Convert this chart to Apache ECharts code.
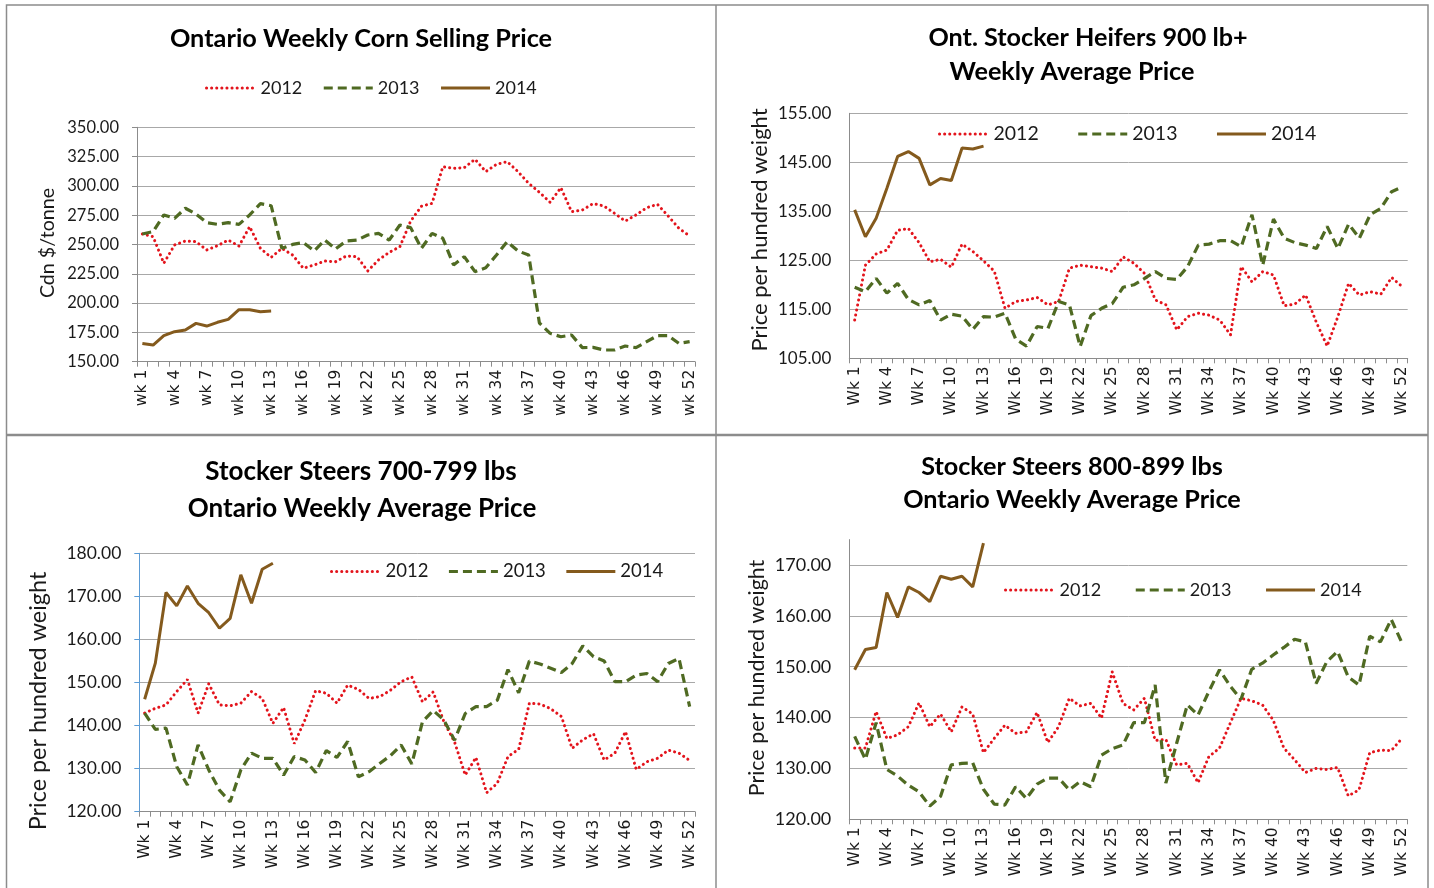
<!DOCTYPE html>
<html><head><meta charset="utf-8">
<script src="https://cdn.jsdelivr.net/npm/echarts@6/dist/echarts.min.js"></script>
<style>html,body{margin:0;padding:0;background:#fff}#c{width:1434px;height:888px}</style>
</head><body><div id="c"></div>
<script>
// ---------- categories ----------
const weekNums = Array.from({length: 52}, (_, i) => i + 1);
const catsLower = weekNums.map(n => 'wk ' + n);
const catsUpper = weekNums.map(n => 'Wk ' + n);
const seriesNames = ['2012', '2013', '2014'];

// ---------- Ontario Weekly Corn Selling Price (Cdn $/tonne) ----------
const corn2012 = [259,256.7,234,249.6,253,252.4,245.3,249,253.8,248.7,265.2,246.7,239,246.7,241,229.7,232.5,235.9,235.3,240.2,
  239.6,227.4,236.8,243.3,248.1,270,282.6,285.1,316.4,315,315.6,322.7,312.2,318.4,320.7,312.2,302.2,294.5,286,298.5,
  278,279.4,284.9,282.9,276.6,270,275.2,281.4,284.3,274.3,263.8,257.3];
const corn2013 = [259,261,275.2,272.3,280.9,276,268.6,267.2,268.6,267.2,275.2,284.9,283.1,246.7,250.1,251.6,244.5,253.8,246.2,253,
  253.8,258.1,259.5,253.8,266.6,264.4,246.7,259.5,255.3,232.5,239.6,226.8,230.2,241,252.4,244.5,241,183,174.2,171.3,
  172.8,162,162.2,160,160,163.4,162,167.1,172.2,172.2,165.6,167.1];
const corn2014 = [165.6,164.2,172.2,175.6,177,182.7,180.4,183.6,186.1,194.4,194.4,192.7,193.2];

// ---------- Ont. Stocker Heifers 900 lb+ ----------
const heif2012 = [112.8,124,126.3,127.1,131.1,131.5,128.6,124.7,125.2,123.6,128.3,126.8,124.9,122.8,115.2,116.6,116.9,117.4,115.9,116.6,
  123.4,124,123.7,123.4,122.7,125.7,124.4,122.3,116.9,115.9,110.8,113.5,114.2,113.8,112.8,109.8,123.7,120.6,122.7,122,
  115.7,116.1,117.9,112.3,107.5,113.5,120.3,117.9,118.6,118.1,121.5,119.6];
const heif2013 = [119.5,118.6,121.3,118.3,120.3,117,115.9,116.8,112.8,114,113.6,110.9,113.5,113.4,114.2,108.9,107.5,111.5,111.1,116.6,
  115.9,107.4,113.7,115.2,116.2,119.5,120,121.3,122.7,121.3,121.1,123.7,128.1,128.3,129,129,127.8,134.3,124,133.4,
  129.5,128.6,128.1,127.4,131.9,127.4,132.4,129.5,134.3,135.6,139,140];
const heif2014 = [135.3,129.8,133.6,139.7,146.2,147.2,145.8,140.4,141.7,141.3,147.9,147.7,148.3];

// ---------- Stocker Steers 700-799 lbs ----------
const st7_2012 = [142.9,144,144.8,147.9,150.7,142.9,149.7,144.8,144.6,145.2,147.9,146.3,140.5,144.2,135.8,141.3,148.1,147.5,145.2,149.4,
  148.4,146.3,146.7,148.2,150.2,151.3,145.5,147.8,140.9,136.2,128.5,132.6,124.4,126.6,132.8,134.5,145.2,145,143.9,142.1,
  134.7,136.7,138.1,132,133.6,138.6,129.8,131.6,132.4,134.3,133.6,131.9];
const st7_2013 = [142.9,139.1,139.4,130.5,126.2,135.5,129.7,125,122.3,129.7,133.6,132.4,132.4,128.5,132.8,132,129.1,134.2,132.6,136.3,
  128.1,129.3,131.2,133,135.5,131.1,140.9,143.5,141.3,136.6,142.8,144.4,144.4,145.9,153,147.6,155,154.3,153.3,152.3,
  154.4,158.5,156,155,150.2,150.2,151.7,152.1,150.2,154.4,155.6,144.4];
const st7_2014 = [146.1,154.5,170.9,167.8,172.4,168.4,166.2,162.6,164.9,175,168.4,176.3,177.7];

// ---------- Stocker Steers 800-899 lbs ----------
const st8_2012 = [134,134,141.2,135.9,136.6,138.2,142.9,138.2,140.7,137.2,142.1,140.7,133.1,135.9,138.5,136.9,137.2,141,135.1,138.2,
  143.8,142.3,142.8,139.9,149,142.8,141.5,143.8,135.5,135.7,130.7,131,127.2,132.3,134,138.9,143.8,143.3,142.5,139.5,
  134,131.7,129.2,130,129.8,130.2,124.6,125.8,133.1,133.6,133.5,135.9];
const st8_2013 = [136.3,131.8,139,129.8,128.5,126.7,125.4,122.6,124.5,130.7,131,131.1,125.9,123,122.8,126.4,124.1,126.9,128.1,128.1,
  125.8,127.4,126.4,132.6,133.9,134.6,139,139,146.4,127.1,134.9,142.5,140.5,145.1,149.4,146.2,143.6,149.5,150.7,152.3,
  153.8,155.4,154.9,146.7,151,153,148,146.4,156,154.9,159.3,154.7];
const st8_2014 = [149.4,153.4,153.8,164.6,159.7,165.7,164.6,162.8,167.8,167.2,167.8,165.7,174.3];

// ---------- styles ----------
const RED = '#E3141C', GREEN = '#4F6A22', BROWN = '#845A1D';
const GRID_C = '#a8a8a8', AXIS_C = '#8c8c8c', TXT = '#1a1a1a';
const FONT = 'Lato, "Liberation Sans", sans-serif';
const XFONT = '"DejaVu Sans", sans-serif';
const lineStyles = [
  {color: RED, width: 3, type: [0.1, 5], cap: 'round'},
  {color: GREEN, width: 3.2, type: [9, 5]},
  {color: BROWN, width: 3, type: 'solid'}
];

const panels = [
  {grid: {left: 137, top: 127.3, width: 558, height: 234.4}, cats: catsLower,
   y: {min: 150, max: 350, interval: 25}, tick: true, axisColor: AXIS_C, yFont: 16.5,
   data: [corn2012, corn2013, corn2014],
   legend: {left: 200, top: 74, itemGap: 20, fontSize: 18}},
  {grid: {left: 849.3, top: 113.3, width: 558.4, height: 245}, cats: catsUpper,
   y: {min: 105, max: 155, interval: 10}, tick: false, axisColor: AXIS_C, yFont: 17,
   data: [heif2012, heif2013, heif2014],
   legend: {left: 933, top: 119, itemGap: 38, fontSize: 19.5}},
  {grid: {left: 139.3, top: 553.3, width: 555.7, height: 258.4}, cats: catsUpper,
   y: {min: 120, max: 180, interval: 10}, tick: true, axisColor: '#5B9BD5', yFont: 17.5,
   data: [st7_2012, st7_2013, st7_2014],
   legend: {left: 325, top: 557, itemGap: 19, fontSize: 18.5}},
  {grid: {left: 849.3, top: 539.6, width: 558, height: 279.7}, cats: catsUpper,
   y: {min: 120, max: 175, interval: 10}, tick: false, axisColor: AXIS_C, yFont: 18, hideMax: true,
   data: [st8_2012, st8_2013, st8_2014],
   legend: {left: 999, top: 576, itemGap: 33, fontSize: 18}}
];

const option = {
  animation: false,
  backgroundColor: '#fff',
  grid: panels.map(p => Object.assign({containLabel: false}, p.grid)),
  xAxis: panels.map((p, i) => ({
    type: 'category', gridIndex: i, data: p.cats, boundaryGap: true,
    axisLine: {lineStyle: {color: AXIS_C, width: 1}},
    axisTick: {show: true, interval: 0, length: 5, lineStyle: {color: AXIS_C}},
    axisLabel: {interval: 2, rotate: 90, margin: 8, fontFamily: XFONT, fontSize: 15.5, color: TXT},
    splitLine: {show: false}
  })),
  yAxis: panels.map((p, i) => ({
    type: 'value', gridIndex: i, min: p.y.min, max: p.y.max, interval: p.y.interval,
    axisLine: {show: true, lineStyle: {color: p.axisColor, width: 1}},
    axisTick: {show: p.tick, length: 5, lineStyle: {color: p.axisColor}},
    axisLabel: {formatter: v => v.toFixed(2), fontFamily: FONT, fontSize: p.yFont, color: TXT, margin: 18,
                showMaxLabel: !p.hideMax},
    splitLine: {show: true, showMaxLine: !p.hideMax, lineStyle: {color: GRID_C, width: 1}}
  })),
  legend: panels.map(p => ({
    left: p.legend.left, top: p.legend.top, itemWidth: 49, itemHeight: 14, itemGap: p.legend.itemGap,
    orient: 'horizontal', data: seriesNames, selectedMode: false,
    itemStyle: {opacity: 0},
    lineStyle: {width: 3},
    textStyle: {fontFamily: FONT, fontSize: p.legend.fontSize, color: TXT}
  })),
  series: [],
  graphic: []
};

panels.forEach((p, i) => {
  p.data.forEach((d, k) => {
    option.series.push({
      type: 'line', name: seriesNames[k], data: d, xAxisIndex: i, yAxisIndex: i,
      symbol: 'none', smooth: false, clip: false,
      lineStyle: lineStyles[k], itemStyle: {color: lineStyles[k].color},
      z: 3 + k
    });
  });
});

const titles = [
  ['Ontario Weekly Corn Selling Price', 361, 39, 25.3],
  ['Ont. Stocker Heifers 900 lb+', 1088, 38, 25.2],
  ['Weekly Average Price', 1072, 72, 25.2],
  ['Stocker Steers 700-799 lbs', 361, 472, 26],
  ['Ontario Weekly Average Price', 362, 509, 26],
  ['Stocker Steers 800-899 lbs', 1072, 467, 25.2],
  ['Ontario Weekly Average Price', 1072, 500, 25.2]
];
const yNames = [
  ['Cdn $/tonne', 48, 243, 19.6],
  ['Price per hundred weight', 760, 230, 22],
  ['Price per hundred weight', 38, 701, 23.4],
  ['Price per hundred weight', 757, 678, 21.4]
];

option.graphic = [
  {type: 'rect', silent: true, shape: {x: 6.5, y: 5, width: 1421.5, height: 895}, style: {fill: 'none', stroke: '#8c8c8c', lineWidth: 1.5}},
  {type: 'line', silent: true, shape: {x1: 716, y1: 5, x2: 716, y2: 888}, style: {stroke: '#8c8c8c', lineWidth: 1.5}},
  {type: 'line', silent: true, shape: {x1: 6, y1: 435, x2: 1428, y2: 435}, style: {stroke: '#8c8c8c', lineWidth: 2.5}}
].concat(titles.map(t => ({
  type: 'text', silent: true, x: t[1], y: t[2],
  style: {text: t[0], textAlign: 'center', textVerticalAlign: 'middle', fill: '#000',
          font: 'bold ' + t[3] + 'px ' + FONT}
}))).concat(yNames.map(t => ({
  type: 'text', silent: true, x: t[1], y: t[2], rotation: Math.PI / 2,
  style: {text: t[0], textAlign: 'center', textVerticalAlign: 'middle', fill: TXT,
          font: t[3] + 'px ' + FONT}
})));

const chart = echarts.init(document.getElementById('c'), null, {renderer: 'canvas'});
chart.setOption(option);
</script>
</body></html>
